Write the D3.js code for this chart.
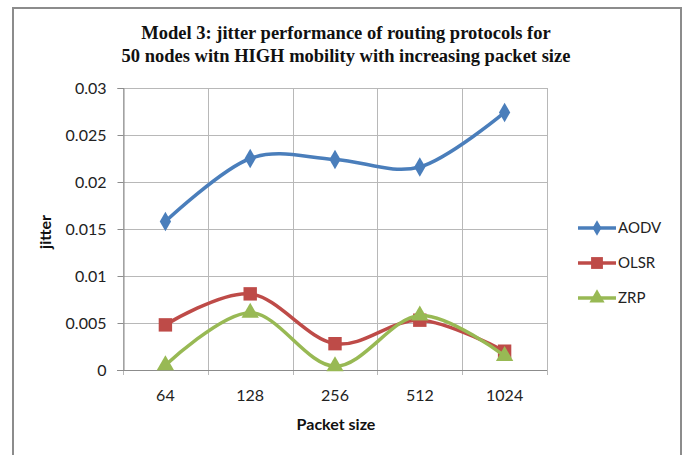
<!DOCTYPE html>
<html>
<head>
<meta charset="utf-8">
<script src="https://cdn.jsdelivr.net/npm/d3@7"></script>
<style>
  html, body { margin: 0; padding: 0; background: #fff; }
  svg { display: block; }
</style>
</head>
<body>
<svg id="chart" width="687" height="455"></svg>
<script>
const categories = ["64", "128", "256", "512", "1024"];
const aodv = [0.0158, 0.0225, 0.0224, 0.0216, 0.0274];
const olsr = [0.0048, 0.0081, 0.0028, 0.0053, 0.0020];
const zrp  = [0.0005, 0.0061, 0.0004, 0.0058, 0.0015];
const yTicks = [0, 0.005, 0.01, 0.015, 0.02, 0.025, 0.03];
const seriesNames = ["AODV", "OLSR", "ZRP"];
const titleLines = ["Model 3: jitter performance of routing protocols for",
                    "50 nodes witn HIGH mobility with increasing packet size"];

const colors = { AODV: "#4A7EBB", OLSR: "#BE4B48", ZRP: "#98B954" };
const shapes = { AODV: d3.symbolDiamond, OLSR: d3.symbolSquare, ZRP: d3.symbolTriangle };
const sizes = { AODV: 110, OLSR: 180, ZRP: 130 };
const series = [
  { name: "AODV", values: aodv },
  { name: "OLSR", values: olsr },
  { name: "ZRP", values: zrp }
];

const svg = d3.select("#chart");
const L = 123, R = 547, T = 88, B = 370;
const sans = "Lato, 'Open Sans', sans-serif";

// frame
svg.append("rect").attr("x", 13).attr("y", 8).attr("width", 668).attr("height", 460)
  .attr("fill", "#fff").attr("stroke", "#8c8c8c").attr("stroke-width", 2);

const x = d3.scaleBand().domain(categories).range([L, R]).padding(0);
const y = d3.scaleLinear().domain([0, 0.03]).range([B, T]);

// horizontal grid
svg.append("g").selectAll("line").data(yTicks).join("line")
  .attr("x1", L).attr("x2", R)
  .attr("y1", d => Math.round(y(d)) + 0.5).attr("y2", d => Math.round(y(d)) + 0.5)
  .attr("stroke", "#b8b8b8").attr("stroke-width", 1);

// vertical grid (band boundaries)
const bounds = categories.map(c => x(c)).concat([x(categories[categories.length - 1]) + x.bandwidth()]);
svg.append("g").selectAll("line").data(bounds).join("line")
  .attr("x1", d => Math.round(d) + 0.5).attr("x2", d => Math.round(d) + 0.5)
  .attr("y1", T).attr("y2", B + 5)
  .attr("stroke", "#b8b8b8").attr("stroke-width", 1);

// y axis
const yAxis = d3.axisLeft(y).tickValues(yTicks).tickSize(6).tickFormat(d => d3.format("")(+d.toFixed(3)));
const gy = svg.append("g").attr("transform", `translate(${L + 0.5},0)`).call(yAxis);
gy.select(".domain").attr("stroke", "#8c8c8c");
gy.selectAll(".tick line").attr("stroke", "#8c8c8c");
gy.selectAll(".tick text").attr("x", -17)
  .style("font-family", sans).style("font-size", "16px").attr("fill", "#222");

// x axis
const xAxis = d3.axisBottom(x).tickSize(0).tickPadding(19);
const gx = svg.append("g").attr("transform", `translate(0,${B + 0.5})`).call(xAxis);
gx.select(".domain").attr("stroke", "#8c8c8c").attr("d", `M${L - 6},0H${R}`);
gx.selectAll(".tick text")
  .style("font-family", sans).style("font-size", "16px").attr("fill", "#222");

// title
svg.append("g").selectAll("text").data(titleLines).join("text")
  .attr("x", 346).attr("y", (d, i) => 39 + i * 23)
  .attr("text-anchor", "middle")
  .style("font-family", "'Liberation Serif', 'Times New Roman', serif")
  .style("font-weight", "bold").style("font-size", "18.5px").attr("fill", "#111")
  .text(d => d);

// axis titles
svg.append("text").attr("x", 336).attr("y", 430).attr("text-anchor", "middle")
  .style("font-family", sans).style("font-weight", "bold")
  .style("font-size", "16px").attr("fill", "#111").text("Packet size");
svg.append("text").attr("transform", "translate(51,232) rotate(-90)").attr("text-anchor", "middle")
  .style("font-family", sans).style("font-weight", "bold")
  .style("font-size", "16px").attr("fill", "#111").text("jitter");

// lines
const line = d3.line()
  .x((d, i) => x(categories[i]) + x.bandwidth() / 2)
  .y(d => y(d))
  .curve(d3.curveCardinal.tension(0));

const gs = svg.append("g").selectAll("g").data(series).join("g");
gs.append("path").attr("d", d => line(d.values)).attr("fill", "none")
  .attr("stroke", d => colors[d.name]).attr("stroke-width", 3.5).attr("stroke-linejoin", "round");
gs.each(function(s) {
  d3.select(this).selectAll("path.m").data(s.values).join("path").attr("class", "m")
    .attr("transform", (d, i) => `translate(${x(categories[i]) + x.bandwidth() / 2},${y(d)})`)
    .attr("d", d3.symbol().type(shapes[s.name]).size(sizes[s.name]))
    .attr("fill", colors[s.name]);
});

// legend
const legY = [228, 263, 298];
const lg = svg.append("g").selectAll("g").data(seriesNames).join("g")
  .attr("transform", (d, i) => `translate(578,${legY[i]})`);
lg.append("line").attr("x1", 0).attr("x2", 38).attr("y1", 0).attr("y2", 0)
  .attr("stroke", d => colors[d]).attr("stroke-width", 3.5);
lg.append("path").attr("transform", "translate(19,0)")
  .attr("d", d => d3.symbol().type(shapes[d]).size(d === "AODV" ? 70 : d === "OLSR" ? 140 : 100)())
  .attr("fill", d => colors[d]);
lg.append("text").attr("x", 40).attr("y", 0).attr("dy", "0.35em")
  .style("font-family", sans).style("font-size", "15px")
  .attr("fill", "#222").text(d => d);
</script>
</body>
</html>
